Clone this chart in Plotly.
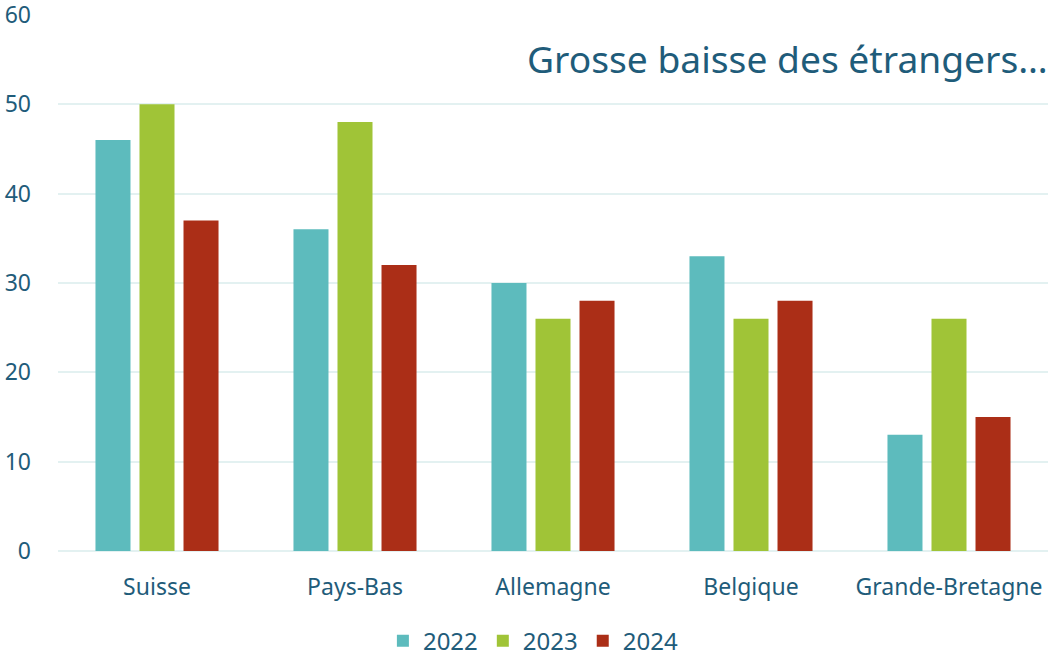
import plotly.graph_objects as go

categories = ["Suisse", "Pays-Bas", "Allemagne", "Belgique", "Grande-Bretagne"]
years = ["2022", "2023", "2024"]
v2022 = [46, 36, 30, 33, 13]
v2023 = [50, 48, 26, 26, 26]
v2024 = [37, 32, 28, 28, 15]
colors = ["#5DBBBD", "#A0C437", "#AB2E17"]

txt = "#1F5C7A"
fig = go.Figure()
for name, vals, c in zip(years, [v2022, v2023, v2024], colors):
    fig.add_trace(go.Bar(x=categories, y=vals, name=name, marker_color=c, marker_line_width=0))

fig.update_layout(
    width=1050, height=657,
    margin=dict(l=58, r=2, t=14, b=106, autoexpand=False),
    plot_bgcolor="white", paper_bgcolor="white",
    font=dict(family="Noto Sans", color=txt, size=23),
    bargap=0.333, bargroupgap=0.2045,
    legend=dict(orientation="h", x=0.508, xanchor="center", xref="container",
                y=0.024, yanchor="middle", yref="container",
                font=dict(size=24), itemwidth=30),
    annotations=[dict(text="Grosse baisse des étrangers…", x=1, xref="paper", xanchor="right",
                      xshift=2, y=55.1, yref="y", yanchor="middle", showarrow=False,
                      font=dict(size=37.2, color=txt))],
)
fig.update_yaxes(range=[0, 60.1], tickvals=[0, 10, 20, 30, 40, 50, 60],
                 gridcolor="#E3F1F1", gridwidth=2, zeroline=True,
                 zerolinecolor="#E3F1F1", zerolinewidth=2, ticks="", ticklabelstandoff=26,
                 ticklabeloverflow="allow", automargin=False)
fig.update_xaxes(showline=False, ticks="", ticklabelstandoff=20, automargin=False)
fig.write_html("out.html", config={"displayModeBar": False},
               post_script="document.body.style.margin='0';document.body.style.overflow='hidden';")
